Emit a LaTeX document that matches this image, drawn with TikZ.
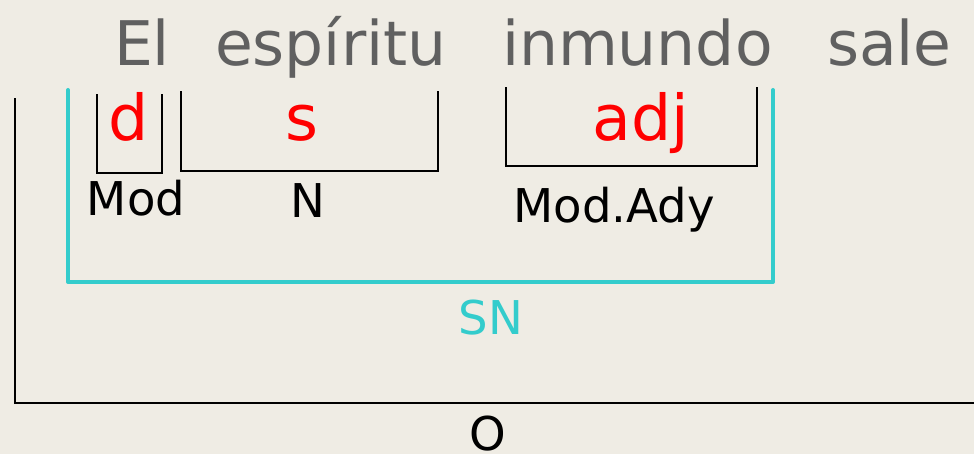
\documentclass[tikz,border=0pt]{standalone}
\usepackage{fontspec}
\setmainfont{DejaVu Sans}
\usepackage{xcolor}
\usepackage{tikz}
\definecolor{paper}{RGB}{239,236,228}
\definecolor{wordgray}{RGB}{96,96,96}
\definecolor{sncyan}{RGB}{51,204,204}
\tikzset{
    tnode/.style = {inner sep=0pt, outer sep=0pt, anchor=base},
    word_node/.style = {tnode, anchor=base west, text=wordgray, font=\fontsize{35}{35}\selectfont},
    cat_node/.style = {tnode, text=red, font=\fontsize{36}{36}\selectfont},
    fun_node/.style = {tnode, text=black, font=\fontsize{26.5}{26.5}\selectfont},
    sn_node/.style = {fun_node, text=sncyan},
    thin_bracket/.style = {draw=black, line width=0.85pt},
    outer_bracket/.style = {draw=black, line width=1.2pt},
    sn_bracket/.style = {draw=sncyan, line width=2.3pt, line cap=round, line join=round}
}
\begin{document}
\begin{tikzpicture}[x=0.02cm, y=-0.02cm]
    \fill[paper] (0,0) rectangle (974,454);
    \useasboundingbox (0,0) rectangle (974,454);

    \node [word_node] (el) at (114,65) {El};
    \node [word_node] (espiritu) at (215,65) {espíritu};
    \node [word_node] (inmundo) at (502,65) {inmundo};
    \node [word_node] (sale) at (827,65) {sale};

    \node [cat_node] (d) at (129,140) {d};
    \node [cat_node] (s) at (302,140) {s};
    \node [cat_node] (adj) at (641,140) {adj};

    \draw [thin_bracket] (97,94) |- (162,173) -- (162,94);
    \draw [thin_bracket] (181,91) |- (438,171) -- (438,91);
    \draw [thin_bracket] (506,87) |- (757,166) -- (757,87);

    \node [fun_node] (mod) at (136,215) {Mod};
    \node [fun_node] (n) at (308,217) {N};
    \node [fun_node] (modady) at (614,222) {Mod.Ady};

    \draw [sn_bracket] (68,90) |- (773,282) -- (773,90);
    \node [sn_node] (sn) at (491,334) {SN};

    \draw [outer_bracket] (15,98) |- (974,403);
    \node [fun_node] (o) at (488,450) {O};
\end{tikzpicture}
\end{document}
